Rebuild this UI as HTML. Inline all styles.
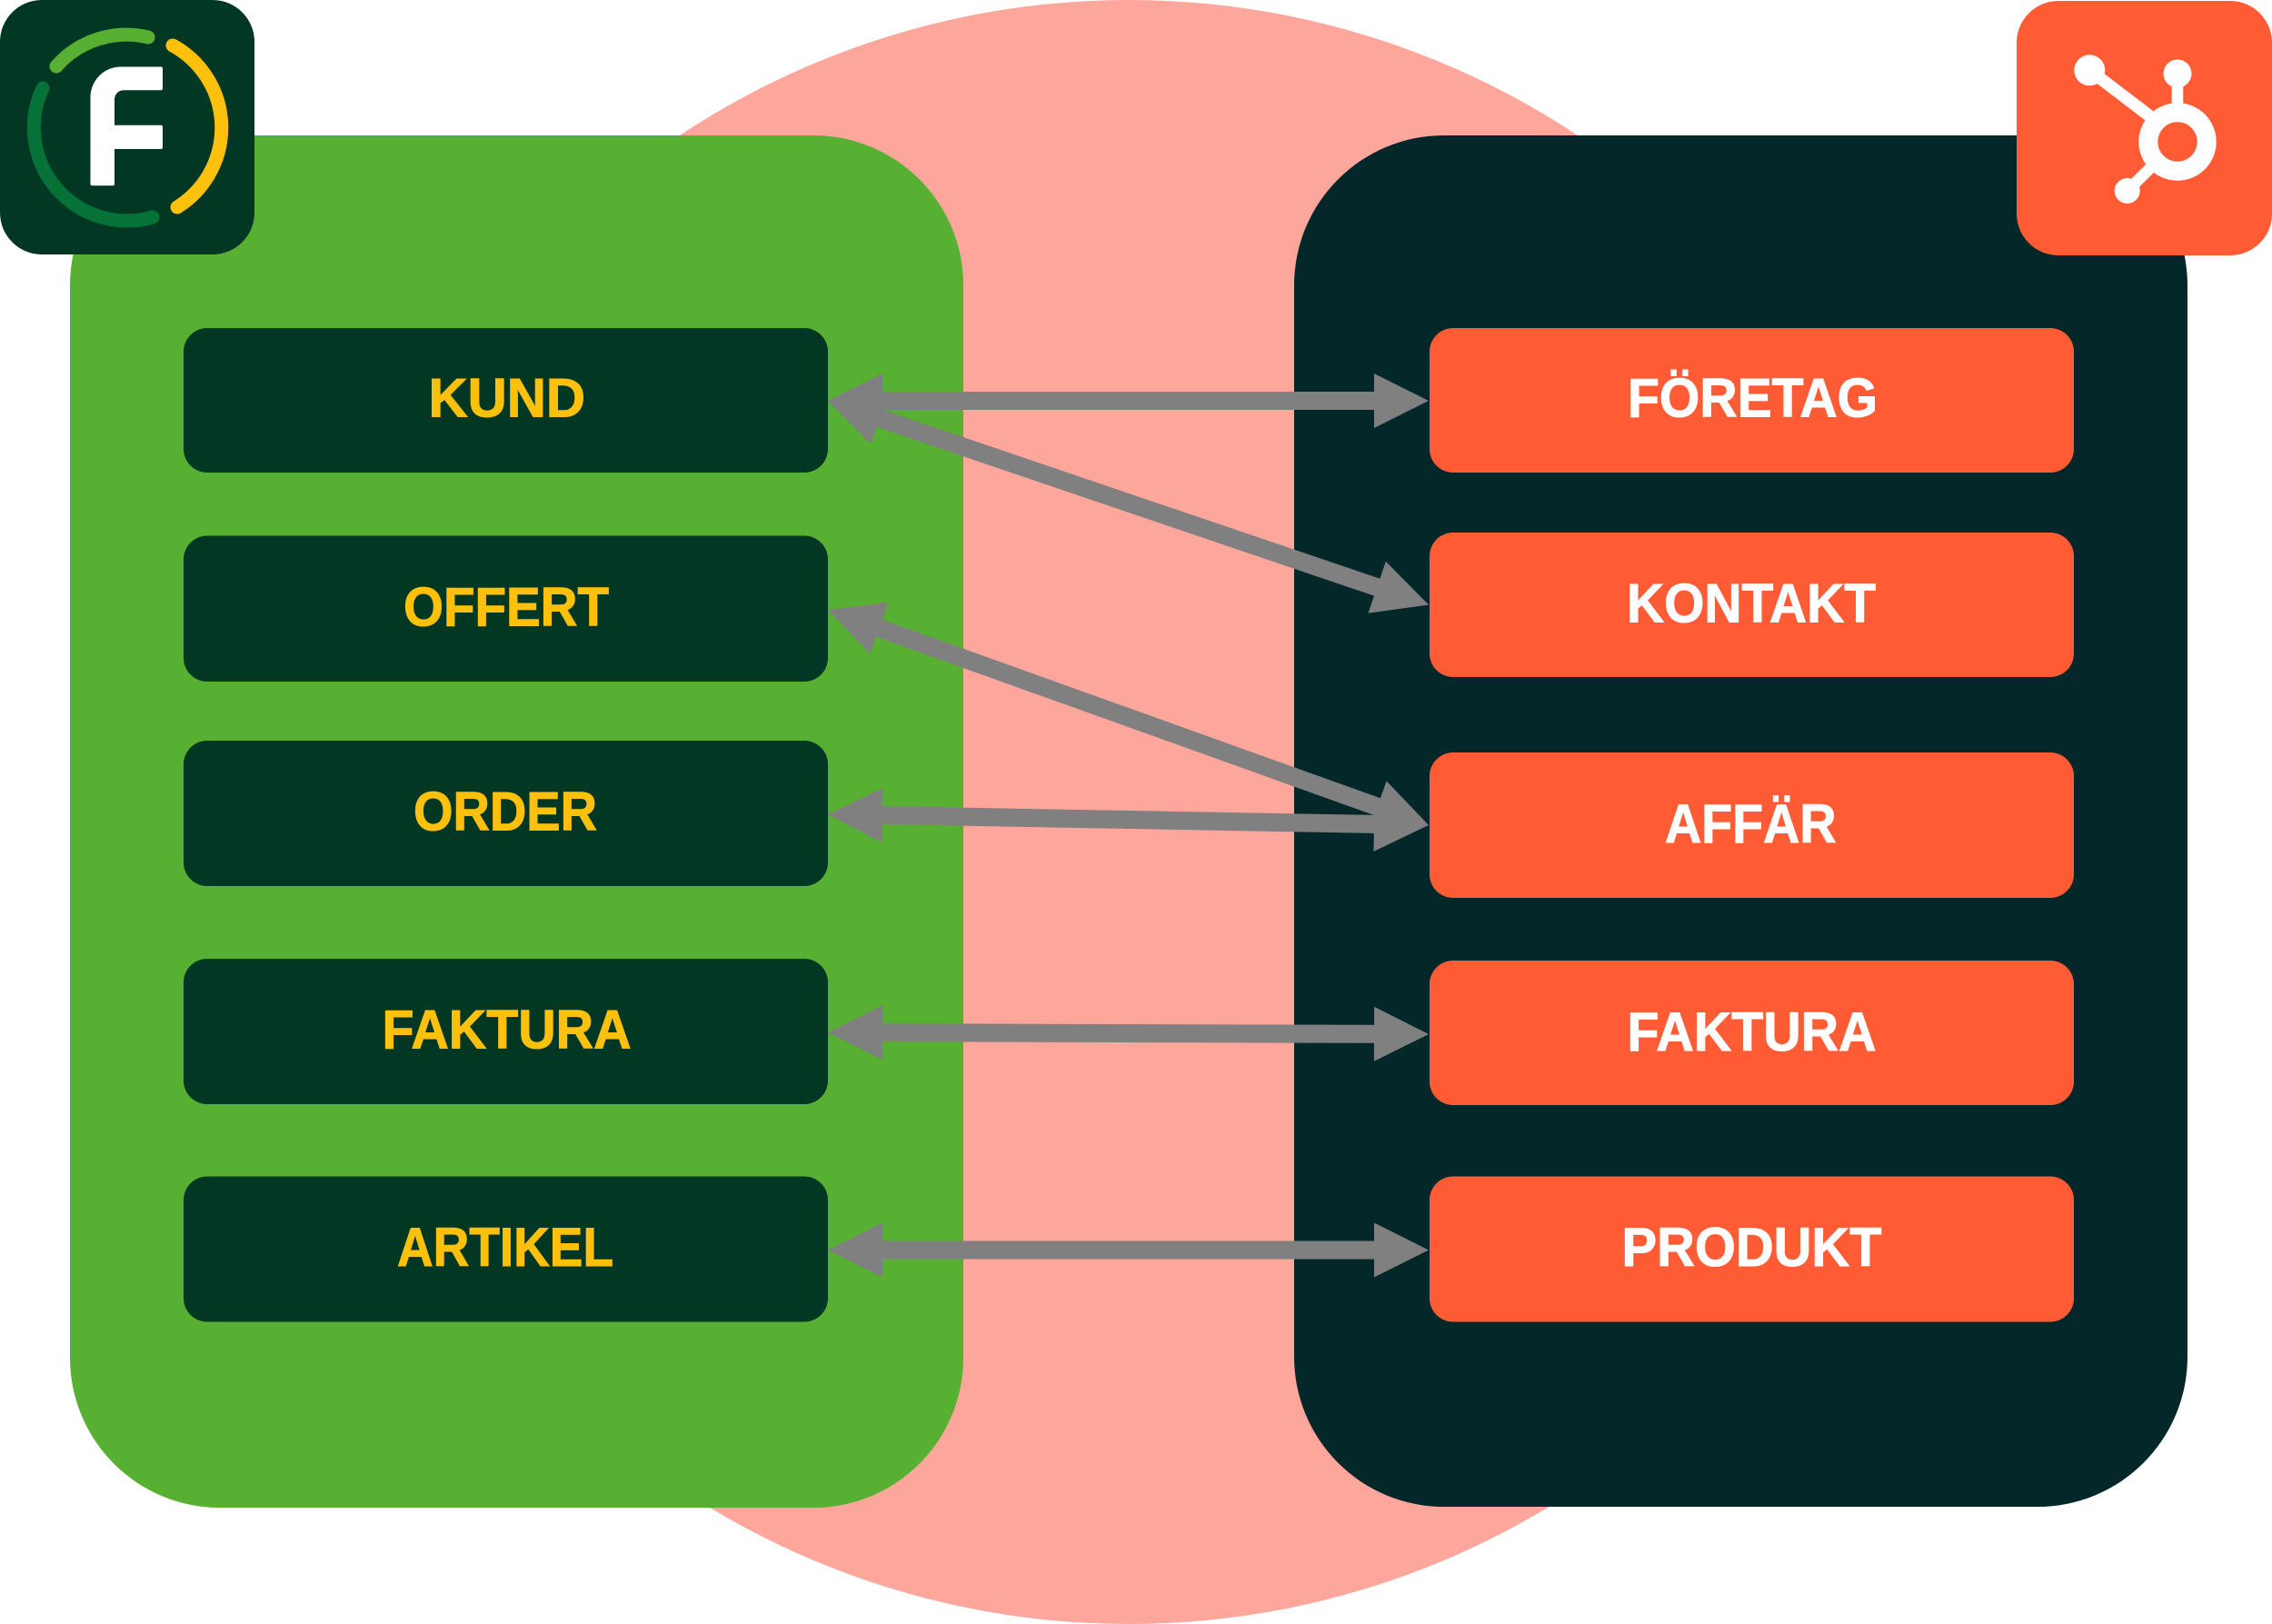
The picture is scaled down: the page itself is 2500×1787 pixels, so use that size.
<!DOCTYPE html>
<html lang="sv">
<head>
<meta charset="utf-8">
<title>Fortnox – HubSpot</title>
<style>
html,body{margin:0;padding:0;background:#fff;width:2500px;height:1787px;overflow:hidden}
svg{display:block}
text{font-family:"Liberation Sans",sans-serif;font-weight:700;font-size:60px;stroke-width:1}
.y{fill:#fdc10d;stroke:#fdc10d}
.w{fill:#fff;stroke:#fff}
</style>
</head>
<body>
<svg xmlns="http://www.w3.org/2000/svg" width="2500" height="1787" viewBox="0 0 2500 1787">
<rect width="2500" height="1787" fill="#fff"/>
<circle cx="1242" cy="893.5" r="893.5" fill="#fca69c"/>

<rect x="77" y="149" width="983" height="1510" rx="165" ry="165" fill="#58b032"/>
<rect x="1424" y="149" width="983" height="1509" rx="165" ry="165" fill="#04272a"/>

<g fill="#023823">
<rect x="202" y="361" width="709" height="159" rx="26"/>
<rect x="202" y="589.5" width="709" height="160.5" rx="26"/>
<rect x="202" y="815" width="709" height="160" rx="26"/>
<rect x="202" y="1055" width="709" height="160" rx="26"/>
<rect x="202" y="1294.5" width="709" height="160" rx="26"/>
</g>
<g fill="#ff5c35">
<rect x="1573" y="361" width="709" height="159" rx="26"/>
<rect x="1573" y="586" width="709" height="159" rx="26"/>
<rect x="1573" y="828" width="709" height="160" rx="26"/>
<rect x="1573" y="1057" width="709" height="159" rx="26"/>
<rect x="1573" y="1294.5" width="709" height="160" rx="26"/>
</g>

<g>
<text class="y" x="471.5" y="458.5" textLength="172.5" lengthAdjust="spacingAndGlyphs">KUND</text>
<text class="y" x="444" y="688.5" textLength="226" lengthAdjust="spacingAndGlyphs">OFFERT</text>
<text class="y" x="455" y="913.5" textLength="202" lengthAdjust="spacingAndGlyphs">ORDER</text>
<text class="y" x="420.5" y="1153.5" textLength="274" lengthAdjust="spacingAndGlyphs">FAKTURA</text>
<text class="y" x="437" y="1393" textLength="238" lengthAdjust="spacingAndGlyphs">ARTIKEL</text>
<text class="w" x="1791" y="458.5" textLength="275" lengthAdjust="spacingAndGlyphs">FÖRETAG</text>
<text class="w" x="1790" y="684.5" textLength="274" lengthAdjust="spacingAndGlyphs">KONTAKT</text>
<text class="w" x="1832" y="927" textLength="188.5" lengthAdjust="spacingAndGlyphs">AFFÄR</text>
<text class="w" x="1790.5" y="1156" textLength="274" lengthAdjust="spacingAndGlyphs">FAKTURA</text>
<text class="w" x="1784.5" y="1393" textLength="286" lengthAdjust="spacingAndGlyphs">PRODUKT</text>
</g>

<g fill="#808080">
<polygon transform="translate(911 441)" points="0,0 60,-30 60,-10 601,-10 601,-30 661,0 601,30 601,10 60,10 60,30"/>
<polygon transform="translate(911 441) rotate(18.76)" points="0,0 60,-30 60,-10 638.1,-10 638.1,-30 698.1,0 638.1,30 638.1,10 60,10 60,30"/>
<polygon transform="translate(911 671) rotate(19.72)" points="0,0 60,-30 60,-10 642.2,-10 642.2,-30 702.2,0 642.2,30 642.2,10 60,10 60,30"/>
<polygon transform="translate(911 896) rotate(1.04)" points="0,0 60,-30 60,-10 601.1,-10 601.1,-30 661.1,0 601.1,30 601.1,10 60,10 60,30"/>
<polygon transform="translate(911 1136) rotate(0.17)" points="0,0 60,-30 60,-10 601,-10 601,-30 661,0 601,30 601,10 60,10 60,30"/>
<polygon transform="translate(911 1375.5)" points="0,0 60,-30 60,-10 601,-10 601,-30 661,0 601,30 601,10 60,10 60,30"/>
</g>

<!-- Fortnox icon -->
<rect x="0" y="0" width="280" height="280" rx="46" fill="#023823"/>
<g fill="none" stroke-width="15" stroke-linecap="round">
<path d="M62 73 A102.5 102.5 0 0 1 163 41" stroke="#58b032"/>
<path d="M190 50 A103 103 0 0 1 195 228" stroke="#fdc10d"/>
<path d="M47 97 A102.5 102.5 0 0 0 168 239" stroke="#067237"/>
</g>
<path fill="#fff" d="M99.5 107 A33.5 33.5 0 0 1 133 73.5 H177 a2 2 0 0 1 2 2 V97.3 a2 2 0 0 1 -2 2 H136 a10 10 0 0 0 -10 10 V137.7 H177 a2 2 0 0 1 2 2 V162 a2 2 0 0 1 -2 2 H126 V202.3 a2 2 0 0 1 -2 2 H101.5 a2 2 0 0 1 -2 -2 Z"/>

<!-- HubSpot icon -->
<rect x="2219" y="1" width="281" height="280" rx="46" fill="#ff5c35"/>
<g fill="#fff" stroke="#fff">
<circle cx="2396" cy="81" r="15.5" stroke="none"/>
<circle cx="2299.3" cy="77.3" r="17" stroke="none"/>
<circle cx="2340.7" cy="210" r="14" stroke="none"/>
<line x1="2396" y1="81" x2="2396" y2="125" stroke-width="12.5"/>
<line x1="2299.3" y1="77.3" x2="2375" y2="135" stroke-width="13.5"/>
<line x1="2340.7" y1="210" x2="2372" y2="179" stroke-width="12.5"/>
</g>
<circle cx="2396" cy="156" r="32.2" fill="#ff5c35" stroke="#fff" stroke-width="21"/>
</svg>
</body>
</html>
